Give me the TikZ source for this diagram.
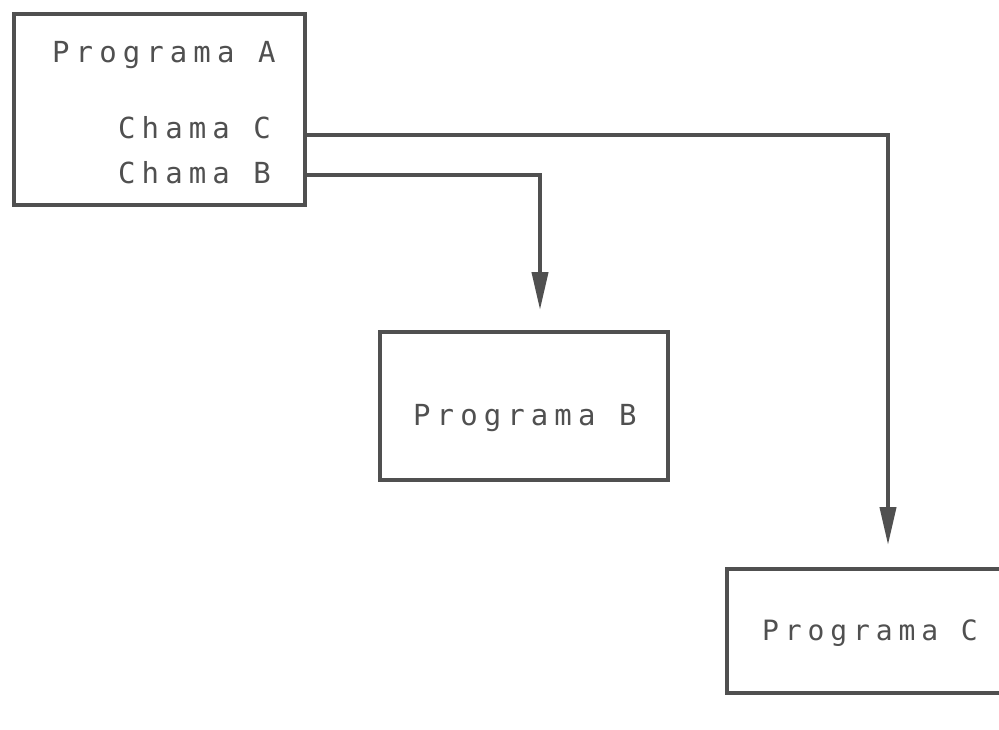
\documentclass[tikz,border=0pt]{standalone}
\usepackage{fontspec}
\newfontfamily\progfont[LetterSpace=21]{DejaVu Sans Mono}
\usetikzlibrary{arrows.meta}
\definecolor{ink}{RGB}{80,80,80}
\tikzset{
  x=1pt, y=-1pt,
  progbox/.style={draw=ink, line width=4pt, rectangle, inner sep=0pt},
  lbl/.style={text=ink, font=\progfont\fontsize{29}{31}\selectfont, inner sep=0pt, anchor=base west},
  call/.style={draw=ink, line width=4pt, -{Triangle[length=38pt,width=16pt]}},
}
\begin{document}
\begin{tikzpicture}
\clip (0,0) rectangle (999,729);
\fill[white] (0,0) rectangle (999,729);
\node[progbox, minimum width=291pt, minimum height=191pt] (A) at (159.5,109.5) {};
\node[lbl] (tA) at (52,62) {Programa A};
\node[lbl] (tC) at (118,138) {Chama C};
\node[lbl] (tB) at (118,183) {Chama B};
\node[progbox, minimum width=288pt, minimum height=148pt] (B) at (524,406) {};
\node[lbl] (tPB) at (413,425) {Programa B};
\node[progbox, minimum width=280pt, minimum height=124pt] (C) at (867,631) {};
\node[lbl, font=\progfont\fontsize{28}{30}\selectfont] (tPC) at (762,640) {Programa C};
\coordinate (cB) at (540,310);
\coordinate (cC) at (888,545);
\draw[call] ([yshift=-25.5pt]A.east) -| (cC);
\draw[call] ([yshift=-65.5pt]A.east) -| (cB);
\end{tikzpicture}
\end{document}
